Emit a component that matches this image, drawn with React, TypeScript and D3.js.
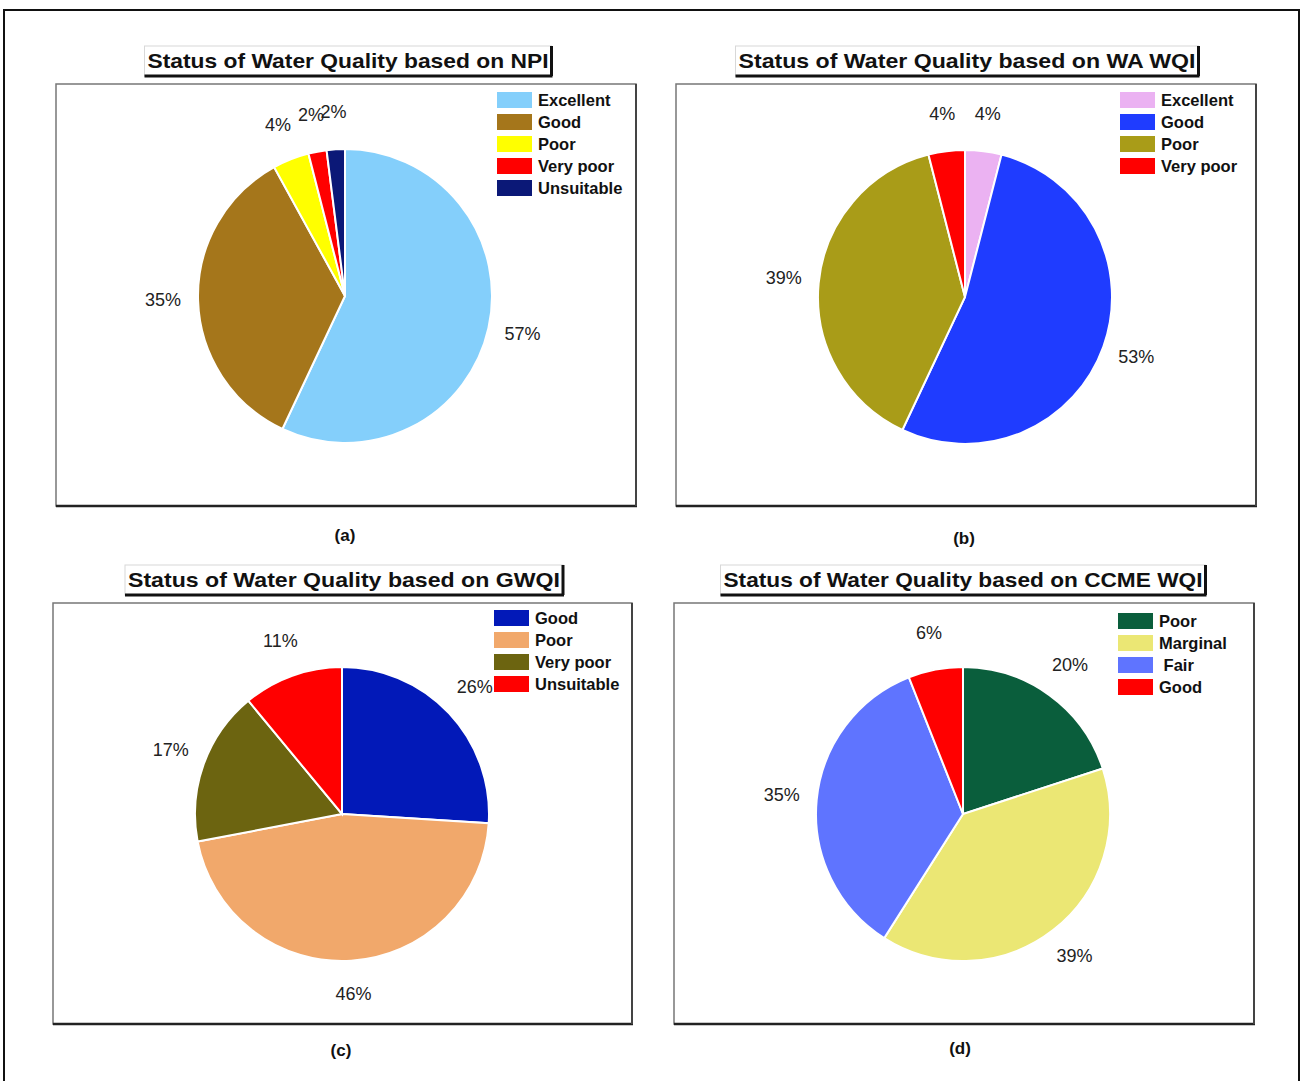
import React from "react";
import * as d3 from "d3";

const npiCategories = ["Excellent", "Good", "Poor", "Very poor", "Unsuitable"];
const npiValues = [57, 35, 4, 2, 2];
const npiColors = ["#84CFFB", "#A5761B", "#FFFF00", "#FF0000", "#0B1877"];

const waCategories = ["Excellent", "Good", "Poor", "Very poor"];
const waValues = [4, 53, 39, 4];
const waColors = ["#EBB2F2", "#1F3CFF", "#A99C18", "#FF0000"];

const gwqiCategories = ["Good", "Poor", "Very poor", "Unsuitable"];
const gwqiValues = [26, 46, 17, 11];
const gwqiColors = ["#0219B8", "#F1A86B", "#6C6410", "#FF0000"];

const ccmeCategories = ["Poor", "Marginal", " Fair", "Good"];
const ccmeValues = [20, 39, 35, 6];
const ccmeColors = ["#0A5E3C", "#EBE774", "#5F74FF", "#FF0000"];

const titles = [
  "Status of Water Quality based on NPI",
  "Status of Water Quality based on WA WQI",
  "Status of Water Quality based on GWQI",
  "Status of Water Quality based on CCME WQI",
];
const panelLabels = ["(a)", "(b)", "(c)", "(d)"];

type Layout = {
  box: [number, number, number, number];
  cx: number; cy: number;
  titleX: number; titleY: number; titleW: number;
  legX: number; legY: number;
  labelY: number;
};

const layouts: Layout[] = [
  { box: [56, 84, 636, 506], cx: 345, cy: 296, titleX: 348, titleY: 68, titleW: 401, legX: 497, legY: 100, labelY: 541 },
  { box: [676, 84, 1256, 506], cx: 965, cy: 297, titleX: 967, titleY: 68, titleW: 457, legX: 1120, legY: 100, labelY: 544 },
  { box: [53, 603, 632, 1024], cx: 342, cy: 814, titleX: 344, titleY: 587, titleW: 432, legX: 494, legY: 618, labelY: 1056 },
  { box: [674, 603, 1254, 1024], cx: 963, cy: 814, titleX: 963, titleY: 587, titleW: 479, legX: 1118, legY: 621, labelY: 1054 },
];

const datasets = [
  { cats: npiCategories, vals: npiValues, cols: npiColors },
  { cats: waCategories, vals: waValues, cols: waColors },
  { cats: gwqiCategories, vals: gwqiValues, cols: gwqiColors },
  { cats: ccmeCategories, vals: ccmeValues, cols: ccmeColors },
];

const R = 147;
const LABEL_R = 182;
const FONT = "'Liberation Sans', Arial, Helvetica, sans-serif";

function Panel({ idx }: { idx: number }) {
  const L = layouts[idx];
  const D = datasets[idx];
  const pie = d3.pie<number>().sort(null).value((d) => d).startAngle(0).endAngle(2 * Math.PI);
  const arcs = pie(D.vals);
  const arc = d3.arc<d3.PieArcDatum<number>>().innerRadius(0).outerRadius(R);
  const labelArc = d3.arc<d3.PieArcDatum<number>>().innerRadius(LABEL_R).outerRadius(LABEL_R);
  const [x0, y0, x1, y1] = L.box;
  const tL = L.titleX - L.titleW / 2 - 3;
  const tR = L.titleX + L.titleW / 2 + 3;
  const tTop = L.titleY - 22;
  const tBot = L.titleY + 8;
  return (
    <g>
      {/* title box */}
      <rect x={tL} y={tTop} width={tR - tL} height={tBot - tTop} fill="white" stroke="#d8d8d8" strokeWidth={1} />
      <line x1={tL} x2={tR + 1} y1={tBot} y2={tBot} stroke="#111" strokeWidth={3} />
      <line x1={tR} x2={tR} y1={tTop} y2={tBot} stroke="#111" strokeWidth={3} />
      <text x={L.titleX} y={L.titleY} textAnchor="middle" fontFamily={FONT} fontWeight="bold" fontSize={21}
        textLength={L.titleW} lengthAdjust="spacingAndGlyphs" fill="#111">{titles[idx]}</text>
      {/* panel box */}
      <rect x={x0} y={y0} width={x1 - x0} height={y1 - y0} fill="white" stroke="#777" strokeWidth={1.5} />
      <line x1={x0} x2={x1 + 1} y1={y1} y2={y1} stroke="#222" strokeWidth={2.5} />
      <line x1={x1} x2={x1} y1={y0} y2={y1} stroke="#444" strokeWidth={2} />
      {/* pie */}
      <g transform={`translate(${L.cx},${L.cy})`}>
        {arcs.map((a, i) => (
          <path key={i} d={arc(a) || ""} fill={D.cols[i]} stroke="white" strokeWidth={2} />
        ))}
        {arcs.map((a, i) => {
          const [lx, ly] = labelArc.centroid(a);
          return (
            <text key={"l" + i} x={lx} y={ly - 2} textAnchor="middle" dominantBaseline="central"
              fontFamily={FONT} fontSize={18} fill="#222">{D.vals[i]}%</text>
          );
        })}
      </g>
      {/* legend */}
      {D.cats.map((c, i) => (
        <g key={"g" + i} transform={`translate(${L.legX},${L.legY + i * 22})`}>
          <rect x={0} y={-8} width={35} height={16} fill={D.cols[i]} />
          <text x={41} y={0} dominantBaseline="central" fontFamily={FONT} fontWeight="bold" fontSize={16.5} fill="#111"
            style={{ whiteSpace: "pre" }}>{c}</text>
        </g>
      ))}
      <text x={L.titleX - 3} y={L.labelY} textAnchor="middle" fontFamily={FONT} fontWeight="bold" fontSize={17} fill="#111">{panelLabels[idx]}</text>
    </g>
  );
}

export default function App() {
  return (
    <svg width={1303} height={1081} style={{ position: "absolute", left: 0, top: 0, background: "white" }}>
      <rect x={0} y={0} width={1303} height={1081} fill="white" />
      <rect x={4} y={10} width={1295} height={1090} fill="none" stroke="#111" strokeWidth={2} />
      {[0, 1, 2, 3].map((i) => <Panel key={i} idx={i} />)}
    </svg>
  );
}
